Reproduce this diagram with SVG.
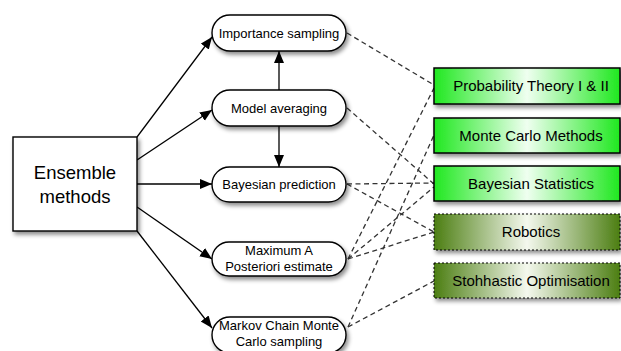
<svg xmlns="http://www.w3.org/2000/svg" width="621" height="351" viewBox="0 0 621 351">
<style>
text{font-family:"Liberation Sans",Arial,sans-serif;fill:#000;text-anchor:middle}
.node rect{fill:#fff;stroke:#000;stroke-width:1.4;filter:url(#sh)}
.nt{font-size:13px}
.bt{font-size:15px}
.arr{stroke:#000;stroke-width:1.3;fill:none;marker-end:url(#ah)}
.dash{stroke:#333;stroke-width:1.3;fill:none;stroke-dasharray:5,3.5}
.green{fill:url(#gg);stroke:#000;stroke-width:1.5;filter:url(#sh)}
.olive{fill:url(#og);stroke:#000;stroke-width:1;stroke-dasharray:2,2;filter:url(#sh)}
</style>
<defs>
<filter id="sh" x="-10%" y="-20%" width="130%" height="160%">
<feDropShadow dx="2" dy="3" stdDeviation="2" flood-color="#000" flood-opacity="0.45"/>
</filter>
<linearGradient id="gg" x1="0" y1="0" x2="1" y2="0">
<stop offset="0" stop-color="#1fe81f"/>
<stop offset="0.5" stop-color="#effff0"/>
<stop offset="1" stop-color="#1fe81f"/>
</linearGradient>
<linearGradient id="og" x1="0" y1="0" x2="1" y2="0">
<stop offset="0" stop-color="#4c7e12"/>
<stop offset="0.5" stop-color="#f4f8ee"/>
<stop offset="1" stop-color="#4c7e12"/>
</linearGradient>
<marker id="ah" markerUnits="userSpaceOnUse" markerWidth="13" markerHeight="11" refX="12" refY="5" orient="auto">
<path d="M0,0 L12,5 L0,10 z" fill="#000"/>
</marker>
</defs>

<g id="connectors">
<line class="arr" x1="137" y1="137" x2="212" y2="37"/>
<line class="arr" x1="137" y1="160" x2="212" y2="110"/>
<line class="arr" x1="137" y1="184" x2="212" y2="184"/>
<line class="arr" x1="137" y1="207" x2="212" y2="259"/>
<line class="arr" x1="137" y1="231" x2="212" y2="328"/>
<line class="arr" x1="279" y1="90" x2="279" y2="51"/>
<line class="arr" x1="279" y1="126" x2="279" y2="167"/>
<line class="dash" x1="347" y1="33" x2="434" y2="85"/>
<line class="dash" x1="347" y1="108" x2="434" y2="184"/>
<line class="dash" x1="347" y1="184" x2="434" y2="183"/>
<line class="dash" x1="347" y1="184" x2="434" y2="232"/>
<line class="dash" x1="348" y1="259" x2="434" y2="88"/>
<line class="dash" x1="348" y1="259" x2="434" y2="187"/>
<line class="dash" x1="348" y1="259" x2="434" y2="232"/>
<line class="dash" x1="348" y1="327" x2="434" y2="135"/>
<line class="dash" x1="348" y1="327" x2="434" y2="281"/>
</g>

<g id="ensemble">
<rect x="13" y="137" width="124" height="94" fill="#fff" stroke="#000" stroke-width="1.4" filter="url(#sh)"/>
<text x="75" y="179" font-size="18.5">Ensemble</text>
<text x="75" y="203" font-size="18.5">methods</text>
</g>

<g id="importance" class="node">
<rect x="212" y="15" width="134" height="36" rx="18"/>
<text class="nt" x="279" y="38">Importance sampling</text>
</g>
<g id="model" class="node">
<rect x="212" y="90" width="134" height="36" rx="18"/>
<text class="nt" x="279" y="113">Model averaging</text>
</g>
<g id="bayespred" class="node">
<rect x="212" y="167" width="134" height="35" rx="17.5"/>
<text class="nt" x="279" y="189">Bayesian prediction</text>
</g>
<g id="map" class="node">
<rect x="212" y="242" width="134" height="34" rx="17"/>
<text class="nt" x="279" y="255">Maximum A</text>
<text class="nt" x="279" y="271">Posteriori estimate</text>
</g>
<g id="mcmc" class="node">
<rect x="212" y="317" width="134" height="36" rx="18"/>
<text class="nt" x="279" y="330">Markov Chain Monte</text>
<text class="nt" x="279" y="346">Carlo sampling</text>
</g>

<g id="probtheory">
<rect class="green" x="434" y="68" width="186" height="36"/>
<text class="bt" x="531" y="91">Probability Theory I &amp; II</text>
</g>
<g id="montecarlo">
<rect class="green" x="434" y="118" width="186" height="35"/>
<text class="bt" x="531" y="141">Monte Carlo Methods</text>
</g>
<g id="bayesstat">
<rect class="green" x="434" y="166" width="186" height="35"/>
<text class="bt" x="531" y="189">Bayesian Statistics</text>
</g>
<g id="robotics">
<rect class="olive" x="434" y="214" width="186" height="36"/>
<text class="bt" x="531" y="237">Robotics</text>
</g>
<g id="stochastic">
<rect class="olive" x="434" y="263" width="186" height="35"/>
<text class="bt" x="531" y="286">Stohhastic Optimisation</text>
</g>
</svg>
